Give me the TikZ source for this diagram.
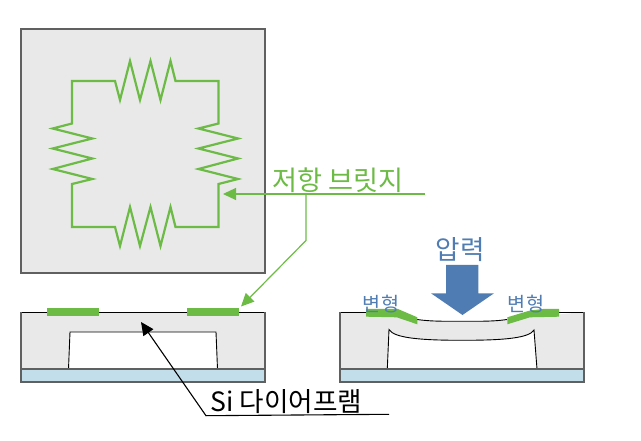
\documentclass[tikz,border=0pt]{standalone}
\usepackage{fontspec}
\setmainfont{Noto Sans CJK KR}
\usetikzlibrary{arrows.meta}
\definecolor{grn}{HTML}{6CBB45}
\definecolor{bluet}{HTML}{4F7DB3}
\definecolor{slab}{HTML}{E9E9E9}
\definecolor{glass}{HTML}{C2DEEB}
\definecolor{edge}{HTML}{606060}
\tikzset{
  wire/.style={draw=grn,line width=2.2pt,line join=miter},
  bar/.style={fill=grn,draw=none},
  leader/.style={draw=grn,line width=1.2pt},
  glead/.style={leader,-{Triangle[length=13pt,width=12pt,fill=grn]}},
  blead/.style={draw=black,line width=1.1pt,-{Triangle[length=13pt,width=12pt,fill=black]}},
  lbl/.style={inner sep=0pt,outer sep=0pt},
  gray edge/.style={draw=edge,line width=1.3pt},
  thin edge/.style={draw=black,line width=0.9pt}
}
\begin{document}
\begin{tikzpicture}[x=1pt,y=-1pt]
\useasboundingbox (0,0) rectangle (641,441);
% top plan
\fill[slab] (21,29) rectangle (265,273);
\draw[draw=edge,line width=1.4pt] (21,29) rectangle (265,273);
\path[wire] (72,123.5) -- (72,81) -- (115,81) -- (120,100) -- (130,61) -- (140,100) -- (150.5,61) -- (160.5,100) -- (170.5,61) -- (175.5,81) -- (218.5,81) -- (218.5,123.5)
 -- (198.5,128.5) -- (238,138.5) -- (198.5,148.5) -- (238,158.5) -- (198.5,169) -- (238,179) -- (218.5,184) -- (218.5,227)
 -- (175.5,227) -- (170.5,207) -- (160.5,246) -- (150.5,207) -- (140,246) -- (130,207) -- (120,246) -- (115,227) -- (72,227) -- (72,184)
 -- (92.3,179) -- (52.7,169) -- (92.3,158.5) -- (52.7,148.5) -- (92.3,138.5) -- (52.7,128.5) -- cycle;
% lower left
\fill[slab] (21,312) rectangle (265,369);
\fill[glass] (21,369) rectangle (265,382);
\fill[white] (68.5,369) -- (70,332) -- (216,332) -- (217.5,369) -- cycle;
\draw[thin edge] (68.5,369) -- (70,332) -- (216,332) -- (217.5,369);
\draw[thin edge] (21,312) -- (265,312);
\draw[gray edge] (21,312) -- (21,382) -- (265,382) -- (265,312);
\draw[gray edge] (21,369) -- (265,369);
\fill[bar] (47,308.5) rectangle (99,316.5);
\fill[bar] (187,308.5) rectangle (239,316.5);
% lower right
\fill[slab] (340,312) -- (366,312) -- (417,319.5) .. controls (430,321.3) and (440,321.3) .. (462,321.3) .. controls (485,321.3) and (495,321.3) .. (507,319.5) -- (584,312) -- (584,369) -- (340,369) -- cycle;
\fill[glass] (340,369) rectangle (584,382);
\fill[white] (387.3,369) -- (389,329.5) .. controls (394,338) and (420,340.3) .. (462,340.3) .. controls (505,340.3) and (529,338) .. (534,330) -- (537,369) -- cycle;
\draw[thin edge] (387.3,369) -- (389,329.5) .. controls (394,338) and (420,340.3) .. (462,340.3) .. controls (505,340.3) and (529,338) .. (534,330) -- (537,369);
\draw[thin edge] (340,312) -- (366,312);
\draw[thin edge] (559,312) -- (584,312);
\draw[thin edge] (417,319.5) .. controls (430,321.3) and (440,321.3) .. (462,321.3) .. controls (485,321.3) and (495,321.3) .. (507,319.5);
\draw[gray edge] (340,312) -- (340,382) -- (584,382) -- (584,312);
\draw[gray edge] (340,369) -- (584,369);
\fill[bar] (366,309) -- (398,309) -- (417.3,317.3) -- (417.3,324.3) -- (396.7,317.3) -- (366,316.7) -- cycle;
\fill[bar] (507.3,317.3) -- (530,310.5) -- (543,309) -- (559,309) -- (559,316.7) -- (530,317.3) -- (507.3,324.3) -- cycle;
% pressure arrow
\fill[bluet] (446,265) -- (478.3,265) -- (478.3,293.3) -- (494,293.3) -- (462.5,315) -- (431,293.3) -- (446,293.3) -- cycle;
% labels
\node[lbl,text=grn] (bridge) at (338,180) {\fontsize{27.2}{29}\selectfont 저항 브릿지};
\node[lbl,text=black] (si) at (286.5,402) {\fontsize{26.6}{29}\selectfont Si 다이어프램};
\node[lbl,text=bluet] (press) at (460,250) {\fontsize{26.6}{29}\selectfont 압력};
\node[lbl,text=bluet] (defl) at (381,304) {\fontsize{19.6}{21}\selectfont 변형};
\node[lbl,text=bluet] (defr) at (526,304) {\fontsize{19.6}{21}\selectfont 변형};
% connectors
\coordinate (gstart) at (425,194);
\coordinate (gtip) at (223,194);
\coordinate (gbranch) at (306,194);
\coordinate (gknee) at (306,240.5);
\coordinate (gtip2) at (241,306.5);
\coordinate (btip) at (141,322);
\coordinate (bknee) at (206,415.7);
\coordinate (bend) at (389,414.3);
\draw[glead] (gstart) -- (gtip);
\draw[glead] (gbranch) -- (gknee) -- (gtip2);
\draw[blead] (bend) -- (bknee) -- (btip);
\end{tikzpicture}
\end{document}
